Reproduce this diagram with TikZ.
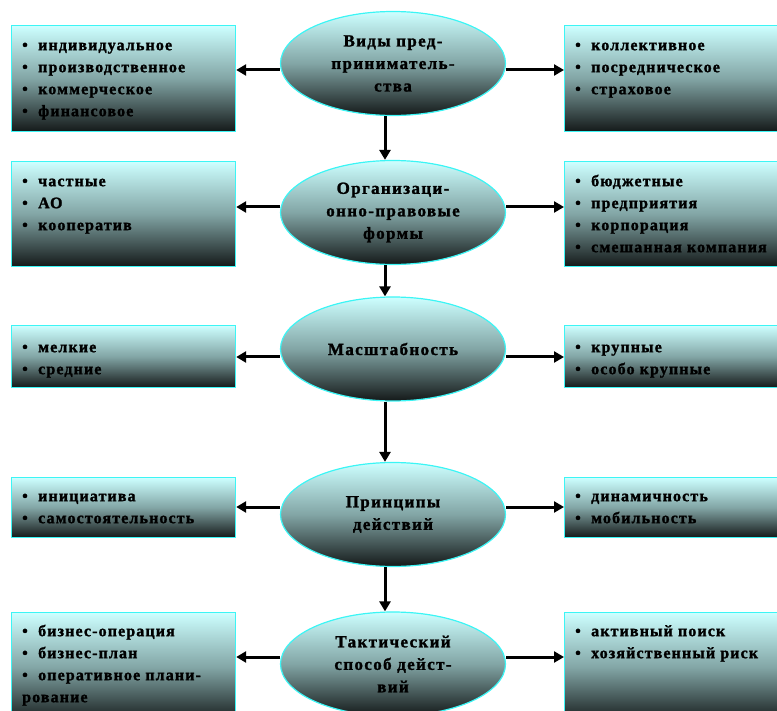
\documentclass[tikz,border=0pt]{standalone}
\usepackage{fontspec}
\usetikzlibrary{shapes.geometric,arrows.meta}
\newfontfamily\bfontfam{Liberation Serif}[LetterSpace=7,FakeBold=1.5]
\newfontfamily\efontfam{Liberation Serif}[LetterSpace=8,FakeBold=1.5]
\definecolor{topc}{RGB}{205,255,255}
\definecolor{midc}{RGB}{130,165,165}
\definecolor{botc}{RGB}{20,25,25}
\definecolor{bordc}{RGB}{60,245,245}
\tikzset{
  grad/.style={top color=topc, bottom color=botc, middle color=midc, draw=bordc, line width=1.2pt},
  catbox/.style={grad, rectangle, anchor=north west, inner sep=0pt},
  cat/.style={grad, ellipse, minimum width=225pt, minimum height=104pt, inner sep=0pt,
    align=center, font=\efontfam\bfseries\fontsize{17}{22}\selectfont,
    execute at begin node={\setlength{\baselineskip}{22.5pt}}},
  itemtext/.style={anchor=north west, align=left, inner sep=0pt,
    font=\bfontfam\bfseries\fontsize{16}{22}\selectfont,
    execute at begin node={\setlength{\baselineskip}{22pt}}},
  arr/.style={-{Triangle[length=10pt,width=11pt]}, line width=3pt, draw=black}
}
\newcommand{\bul}{\makebox[16pt][l]{\textbullet}}
\newcommand{\fst}{\rule{0pt}{13pt}}
\begin{document}
\begin{tikzpicture}[x=1pt,y=-1pt]
\useasboundingbox (0,0) rectangle (777,711);
\clip (0,0) rectangle (777,711);
% ellipses
\node[cat] (E1) at (393,63.5) {Виды пред-\\приниматель-\\ства};
\node[cat] (E2) at (393,212.5) {Организаци-\\онно-правовые\\формы};
\node[cat] (E3) at (393,349) {Масштабность};
\node[cat] (E4) at (393,514.5) {Принципы\\действий};
\node[cat] (E5) at (393,664) {Тактический\\способ дейст-\\вий};
% left boxes
\node[catbox, minimum width=224pt, minimum height=106pt] (L1) at (11,25) {};
\node[catbox, minimum width=224pt, minimum height=105pt] (L2) at (11,161) {};
\node[catbox, minimum width=224pt, minimum height=62pt] (L3) at (11,325) {};
\node[catbox, minimum width=224pt, minimum height=60pt] (L4) at (11,477) {};
\node[catbox, minimum width=224pt, minimum height=110pt] (L5) at (11,612) {};
% right boxes
\node[catbox, minimum width=230pt, minimum height=106pt] (R1) at (564,25) {};
\node[catbox, minimum width=230pt, minimum height=105pt] (R2) at (564,161) {};
\node[catbox, minimum width=230pt, minimum height=62pt] (R3) at (564,325) {};
\node[catbox, minimum width=230pt, minimum height=60pt] (R4) at (564,477) {};
\node[catbox, minimum width=230pt, minimum height=110pt] (R5) at (564,612) {};
% texts
\node[itemtext] (tL1) at (22,37) {\fst\bul индивидуальное\\\bul производственное\\\bul коммерческое\\\bul финансовое};
\node[itemtext] (tL2) at (22,173) {\fst\bul частные\\\bul АО\\\bul кооператив};
\node[itemtext] (tL3) at (22,339) {\fst\bul мелкие\\\bul средние};
\node[itemtext] (tL4) at (22,488) {\fst\bul инициатива\\\bul самостоятельность};
\node[itemtext] (tL5) at (22,623) {\fst\bul бизнес-операция\\\bul бизнес-план\\\bul оперативное плани-\\рование};
\node[itemtext] (tR1) at (575,37) {\fst\bul коллективное\\\bul посредническое\\\bul страховое};
\node[itemtext] (tR2) at (575,173) {\fst\bul бюджетные\\\bul предприятия\\\bul корпорация\\\bul смешанная компания};
\node[itemtext] (tR3) at (575,339) {\fst\bul крупные\\\bul особо крупные};
\node[itemtext] (tR4) at (575,488) {\fst\bul динамичность\\\bul мобильность};
\node[itemtext] (tR5) at (575,623) {\fst\bul активный поиск\\\bul хозяйственный риск};
% arrow levels
\coordinate (a1) at (0,70);
\coordinate (a2) at (0,207);
\coordinate (a3) at (0,357);
\coordinate (a4) at (0,507);
\coordinate (a5) at (0,657);
\coordinate (vx) at (385,0);
\foreach \i in {1,...,5}{
  \draw[arr] (E\i.west |- a\i) -- (L\i.east |- a\i);
  \draw[arr] (E\i.east |- a\i) -- (R\i.west |- a\i);
}
\draw[arr] (vx |- E1.south) -- (vx |- E2.north);
\draw[arr] (vx |- E2.south) -- (vx |- E3.north);
\draw[arr] (vx |- E3.south) -- (vx |- E4.north);
\draw[arr] (vx |- E4.south) -- (vx |- E5.north);
\end{tikzpicture}
\end{document}
